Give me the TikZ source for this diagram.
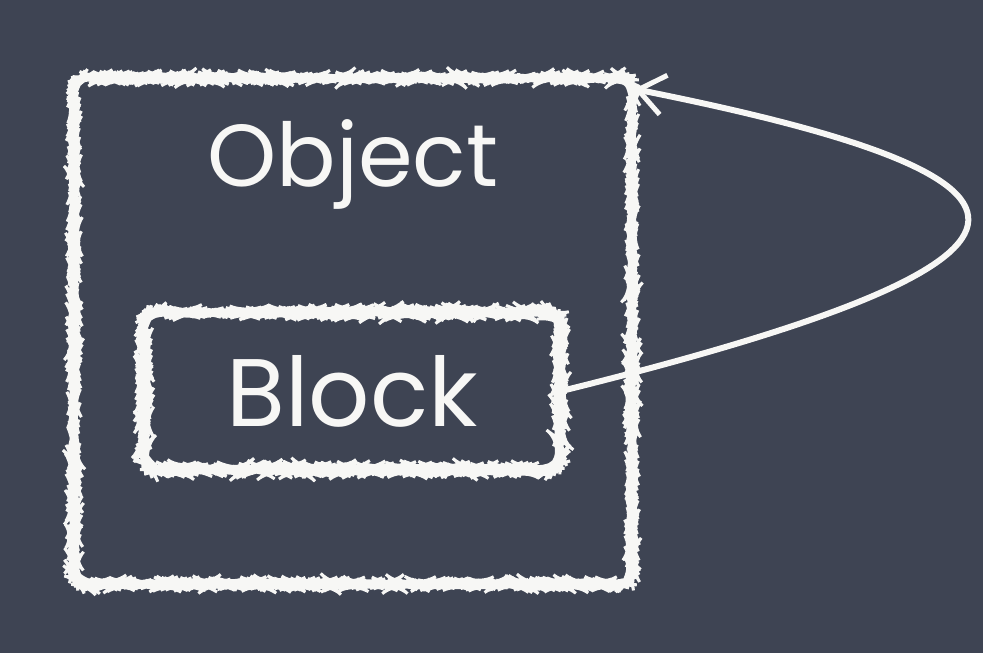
\documentclass[tikz,border=0pt]{standalone}
\usepackage{fontspec}
\setmainfont{Poppins}
\usetikzlibrary{arrows.meta,decorations.pathmorphing}
\definecolor{board}{HTML}{3E4453}
\definecolor{chalk}{HTML}{F7F7F5}
\tikzset{
  chalkbox/.style={draw=chalk, line width=3pt, rounded corners=15pt,
    decoration={random steps, segment length=1.2pt, amplitude=0.4pt},
    decorate, inner sep=0pt},
  chalktext/.style={text=chalk},
  chalkline/.style={draw=chalk, line width=6pt,
    -{Straight Barb[length=26pt, width=40pt, line width=5pt]}}
}
\begin{document}
\begin{tikzpicture}[x=1pt,y=-1pt]
\fill[board] (0,0) rectangle (983,653);
\useasboundingbox (0,0) rectangle (983,653);
\node[chalkbox, minimum width=558pt, minimum height=506pt] (object) at (353,331) {};
\node[chalktext, font=\fontsize{88}{96}\selectfont] (objlabel) at (353,164) {Object};
\node[chalkbox, minimum width=416pt, minimum height=157pt, rounded corners=17pt, chalktext, font=\fontsize{96}{104}\selectfont] (block) at (352,391) {Block};
\coordinate (tip) at (634,89);
\draw[chalkline] (block.east) .. controls (1090,260) and (1090,180) .. (tip);
\end{tikzpicture}
\end{document}
